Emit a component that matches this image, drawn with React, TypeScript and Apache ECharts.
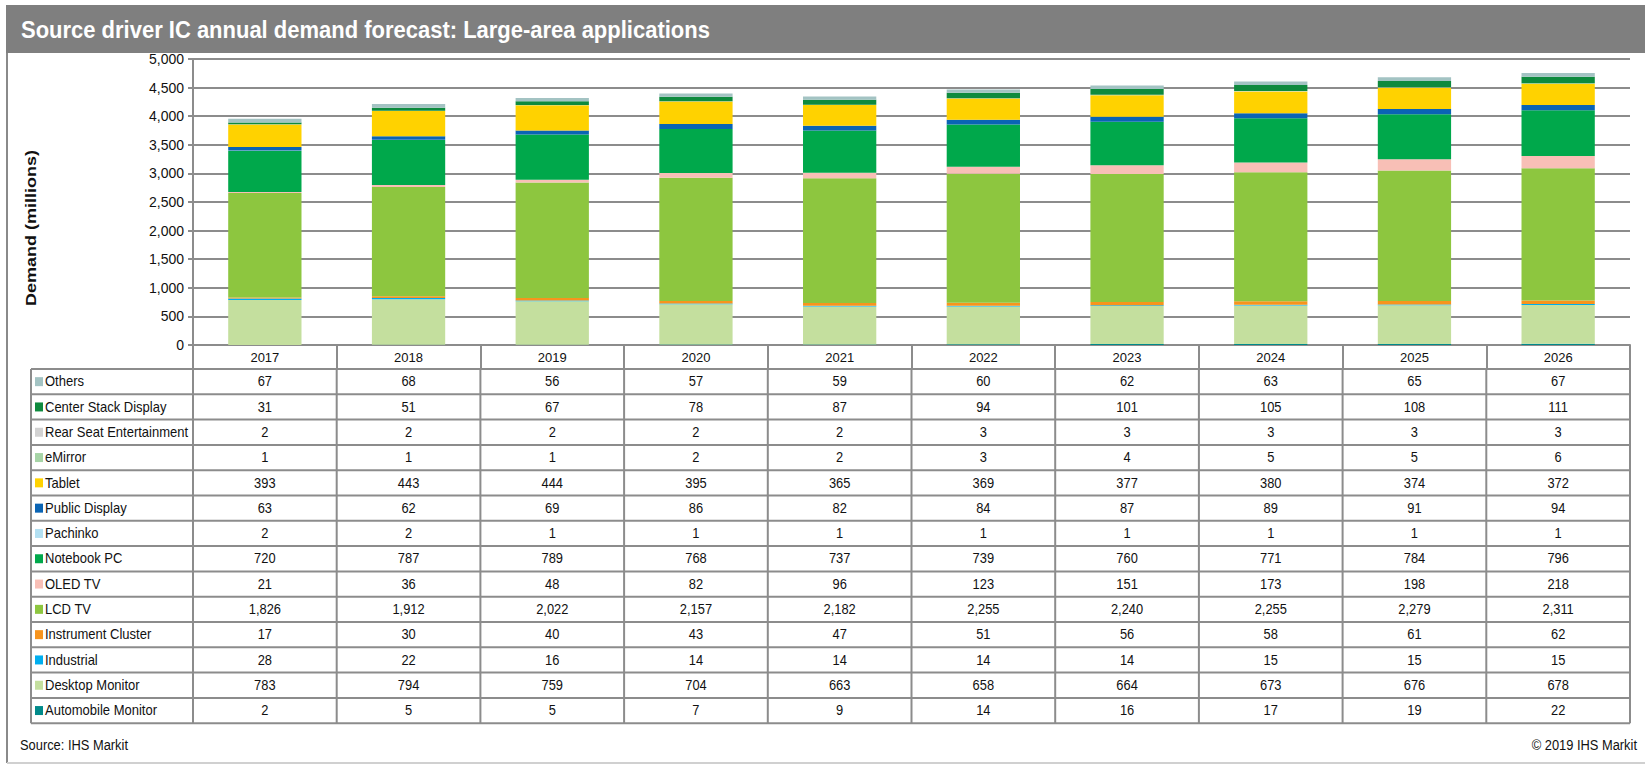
import React, { useEffect, useRef } from "react";
import * as echarts from "echarts";

const years = ["2017", "2018", "2019", "2020", "2021", "2022", "2023", "2024", "2025", "2026"];

// table order (top row first); stacking order is the reverse (bottom first)
const seriesNames = [
  "Others",
  "Center Stack Display",
  "Rear Seat Entertainment",
  "eMirror",
  "Tablet",
  "Public Display",
  "Pachinko",
  "Notebook PC",
  "OLED TV",
  "LCD TV",
  "Instrument Cluster",
  "Industrial",
  "Desktop Monitor",
  "Automobile Monitor",
];

const others = [67, 68, 56, 57, 59, 60, 62, 63, 65, 67];
const centerStack = [31, 51, 67, 78, 87, 94, 101, 105, 108, 111];
const rearSeat = [2, 2, 2, 2, 2, 3, 3, 3, 3, 3];
const eMirror = [1, 1, 1, 2, 2, 3, 4, 5, 5, 6];
const tablet = [393, 443, 444, 395, 365, 369, 377, 380, 374, 372];
const publicDisplay = [63, 62, 69, 86, 82, 84, 87, 89, 91, 94];
const pachinko = [2, 2, 1, 1, 1, 1, 1, 1, 1, 1];
const notebookPC = [720, 787, 789, 768, 737, 739, 760, 771, 784, 796];
const oledTV = [21, 36, 48, 82, 96, 123, 151, 173, 198, 218];
const lcdTV = [1826, 1912, 2022, 2157, 2182, 2255, 2240, 2255, 2279, 2311];
const instrumentCluster = [17, 30, 40, 43, 47, 51, 56, 58, 61, 62];
const industrial = [28, 22, 16, 14, 14, 14, 14, 15, 15, 15];
const desktopMonitor = [783, 794, 759, 704, 663, 658, 664, 673, 676, 678];
const automobileMonitor = [2, 5, 5, 7, 9, 14, 16, 17, 19, 22];

const seriesValues = [
  others, centerStack, rearSeat, eMirror, tablet, publicDisplay, pachinko,
  notebookPC, oledTV, lcdTV, instrumentCluster, industrial, desktopMonitor, automobileMonitor,
];

const seriesColors = [
  "#a3c3c3", "#0e8a3e", "#d2d2d2", "#a6d4a6", "#ffd200", "#0a64b4", "#b3e0f2",
  "#00a84b", "#f8bfb6", "#8dc63f", "#f7941d", "#00aeef", "#c4df9e", "#008a8a",
];

const yTicks = [0, 500, 1000, 1500, 2000, 2500, 3000, 3500, 4000, 4500, 5000];

const TITLE = "Source driver IC annual demand forecast: Large-area applications";
const Y_NAME = "Demand (millions)";
const SOURCE = "Source: IHS Markit";
const COPY = "\u00a9 2019 IHS Markit";

const W = 1645;
const H = 765;
const FONT = '"Liberation Sans", Arial, sans-serif';
const GRID = { left: 193, right: 15, top: 59, bottom: 420 };
const TABLE_LEFT = 31;
const TABLE_TOP = 369;
const ROW_H = 25.3;
const LINE = "#8c8c8c";

export default function App() {
  const ref = useRef<HTMLDivElement>(null);

  useEffect(() => {
    const el = ref.current;
    if (!el) return;
    const chart = echarts.init(el, null, { renderer: "svg" });

    const plotW = W - GRID.left - GRID.right;
    const colW = plotW / years.length;
    const tableRight = GRID.left + plotW;
    const tableBottom = TABLE_TOP + ROW_H * seriesNames.length;

    const graphics: any[] = [];
    // title bar
    graphics.push({
      type: "rect", shape: { x: 6, y: 5, width: W - 6, height: 48 },
      style: { fill: "#7f7f7f" }, silent: true,
    });
    graphics.push({
      type: "text", x: 21, y: 30, scaleY: 1.08,
      style: { text: TITLE, fill: "#ffffff", font: `bold 22px ${FONT}`, textVerticalAlign: "middle" },
    });
    // frame
    graphics.push({ type: "line", shape: { x1: 7, y1: 53, x2: 7, y2: 763 }, style: { stroke: "#8a8a8a", lineWidth: 2 } });
    graphics.push({ type: "line", shape: { x1: 7, y1: 763, x2: W, y2: 763 }, style: { stroke: "#d0d0d0", lineWidth: 2 } });
    // y name
    graphics.push({
      type: "text", x: 31, y: 228, rotation: Math.PI / 2, scaleX: 1.2,
      style: { text: Y_NAME, fill: "#111", font: `bold 15px ${FONT}`, textAlign: "center", textVerticalAlign: "middle" },
    });
    // table lines
    for (let i = 0; i <= seriesNames.length; i++) {
      const y = TABLE_TOP + ROW_H * i;
      graphics.push({ type: "line", shape: { x1: TABLE_LEFT, y1: y, x2: tableRight, y2: y }, style: { stroke: LINE, lineWidth: 2 } });
    }
    graphics.push({ type: "line", shape: { x1: TABLE_LEFT, y1: TABLE_TOP, x2: TABLE_LEFT, y2: tableBottom }, style: { stroke: LINE, lineWidth: 2 } });
    for (let j = 0; j <= years.length; j++) {
      const x = GRID.left + colW * j;
      graphics.push({ type: "line", shape: { x1: x, y1: TABLE_TOP, x2: x, y2: tableBottom }, style: { stroke: LINE, lineWidth: 2 } });
    }
    // table content
    seriesNames.forEach((name, r) => {
      const yc = TABLE_TOP + ROW_H * r + ROW_H / 2;
      graphics.push({ type: "rect", shape: { x: 35, y: yc - 4.5, width: 8, height: 9 }, style: { fill: seriesColors[r] } });
      graphics.push({
        type: "text", x: 45, y: yc, scaleX: 0.93,
        style: { text: name, fill: "#111", font: `14px ${FONT}`, textVerticalAlign: "middle" },
      });
      seriesValues[r].forEach((v, j) => {
        graphics.push({
          type: "text", x: GRID.left + colW * (j + 0.5), y: yc, scaleX: 0.92,
          style: { text: v.toLocaleString("en-US"), fill: "#111", font: `14px ${FONT}`, textAlign: "center", textVerticalAlign: "middle" },
        });
      });
    });
    // footer
    graphics.push({ type: "text", x: 20, y: 745, scaleX: 0.92, style: { text: SOURCE, fill: "#111", font: `14px ${FONT}`, textVerticalAlign: "middle" } });
    graphics.push({ type: "text", x: 1637, y: 745, scaleX: 0.92, style: { text: COPY, fill: "#111", font: `14px ${FONT}`, textAlign: "right", textVerticalAlign: "middle" } });

    const stackOrder = seriesNames.map((_, i) => i).reverse();

    chart.setOption({
      animation: false,
      backgroundColor: "#ffffff",
      grid: { left: GRID.left, right: GRID.right, top: GRID.top, bottom: GRID.bottom, containLabel: false },
      xAxis: {
        type: "category",
        data: years,
        axisLine: { show: true, lineStyle: { color: LINE, width: 2 } },
        axisTick: { show: true, length: 24, interval: 0, lineStyle: { color: LINE, width: 2 } },
        axisLabel: { color: "#111", fontFamily: FONT, fontSize: 13, margin: 6 },
      },
      yAxis: {
        type: "value",
        min: yTicks[0],
        max: yTicks[yTicks.length - 1],
        interval: 500,
        axisLine: { show: true, lineStyle: { color: LINE, width: 2 } },
        axisTick: { show: true, length: 5, lineStyle: { color: LINE, width: 2 } },
        splitLine: { show: true, lineStyle: { color: LINE, width: 2 } },
        axisLabel: {
          color: "#111", fontFamily: FONT, fontSize: 14, margin: 9,
          formatter: (v: number) => v.toLocaleString("en-US"),
        },
      },
      series: stackOrder.map((i) => ({
        name: seriesNames[i],
        type: "bar",
        stack: "total",
        barWidth: "51%",
        data: seriesValues[i],
        itemStyle: { color: seriesColors[i] },
        emphasis: { disabled: true },
      })),
      graphic: graphics,
    });

    return () => chart.dispose();
  }, []);

  return <div ref={ref} style={{ position: "absolute", left: 0, top: 0, width: W, height: H }} />;
}
